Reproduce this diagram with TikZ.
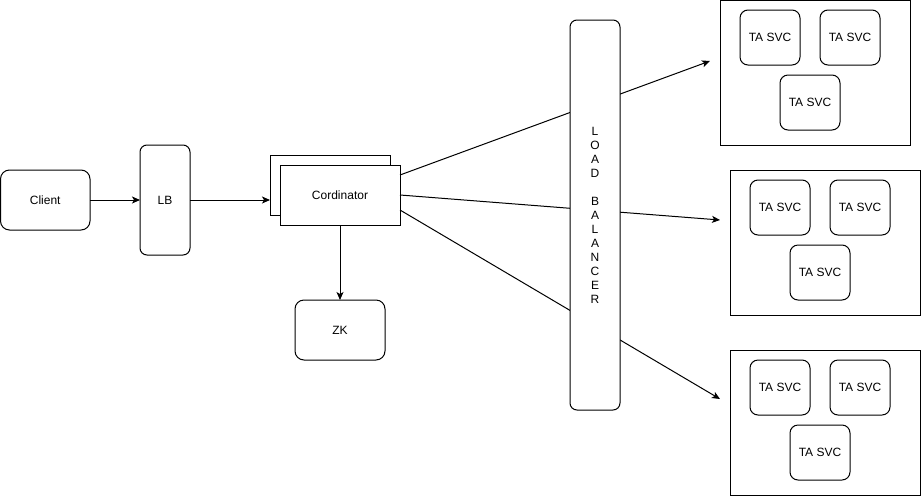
\documentclass[tikz,border=0pt]{standalone}
\usepackage{fontspec}
\setmainfont{Liberation Sans}
\usetikzlibrary{arrows.meta}
\begin{document}
\begin{tikzpicture}[x=1pt,y=-1pt,
  every node/.style={font=\fontsize{12}{14}\selectfont, inner sep=0pt, outer sep=0pt},
  rbox/.style={draw=black, line width=1pt, fill=white, rounded corners=#1},
  rbox/.default=8pt,
  sbox/.style={draw=black, line width=1pt, fill=white},
  conn/.style={draw=black, line width=1pt},
  arr/.style={conn, -{Stealth[length=8pt,width=7pt,inset=2pt]}}
]
\useasboundingbox (0,0) rectangle (921,496);

% left part
\node[rbox=9pt, minimum width=89.5pt, minimum height=60pt] (client) at (45.25,200) {Client};
\node[rbox=7pt, minimum width=50pt, minimum height=110pt] (lb) at (165,200) {LB};
\node[sbox, minimum width=120pt, minimum height=60pt] (cb) at (330,185) {};
\node[sbox, minimum width=120pt, minimum height=60pt] (cf) at (340,195) {Cordinator};
\node[rbox=9pt, minimum width=90pt, minimum height=60pt] (zk) at (340,330) {ZK};

\draw[arr] (client.east) -- (lb.west);
\draw[arr] (lb.east) -- (lb.east -| cb.west);
\draw[arr] (cf.south) -- (zk.north);

% group boxes
\node[sbox, minimum width=190pt, minimum height=144.5pt] (g1) at (815,72.75) {};
\node[sbox, minimum width=190pt, minimum height=145pt] (g2) at (825,242.5) {};
\node[sbox, minimum width=190pt, minimum height=145pt] (g3) at (825,422.5) {};

\node[rbox, minimum width=60pt, minimum height=55pt] (a1) at (770,37.5) {TA SVC};
\node[rbox, minimum width=60pt, minimum height=55pt] (a2) at (850,37.5) {TA SVC};
\node[rbox, minimum width=60pt, minimum height=55pt] (a3) at (810,102.5) {TA SVC};

\node[rbox, minimum width=60pt, minimum height=55pt] (b1) at (780,207.5) {TA SVC};
\node[rbox, minimum width=60pt, minimum height=55pt] (b2) at (860,207.5) {TA SVC};
\node[rbox, minimum width=60pt, minimum height=55pt] (b3) at (820,272.5) {TA SVC};

\node[rbox, minimum width=60pt, minimum height=55pt] (c1) at (780,387.5) {TA SVC};
\node[rbox, minimum width=60pt, minimum height=55pt] (c2) at (860,387.5) {TA SVC};
\node[rbox, minimum width=60pt, minimum height=55pt] (c3) at (820,452.5) {TA SVC};

% edges from coordinator to groups (pass behind load balancer)
\coordinate (e1) at (710,61);
\coordinate (e2) at (720,220);
\coordinate (e3) at (720,399);
\draw[arr] ([yshift=20pt]cf.east) -- (e1);
\draw[arr] (cf.east) -- (e2);
\draw[arr] ([yshift=-15pt]cf.east) -- (e3);

% load balancer on top
\node[rbox=7pt, minimum width=50pt, minimum height=390pt, align=center,
      font=\fontsize{12}{14}\selectfont] (lbr) at (595,215)
  {L\\O\\A\\D\\[14pt]B\\A\\L\\A\\N\\C\\E\\R};
\end{tikzpicture}
\end{document}
